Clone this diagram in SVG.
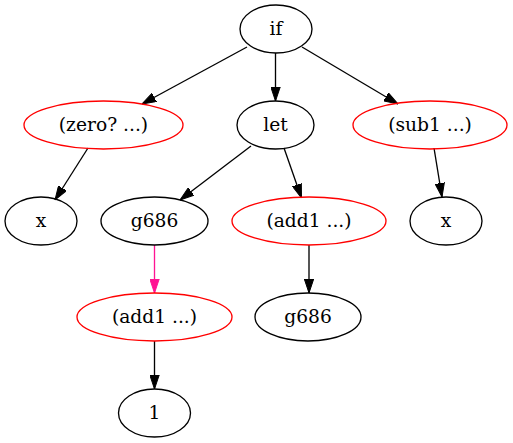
<svg xmlns="http://www.w3.org/2000/svg" width="513" height="443" viewBox="0 0 513 443">
<style>
.n ellipse{fill:none;stroke:#000;stroke-width:1.33}
.r ellipse{stroke:#ff0000}
text{font-family:"DejaVu Serif","Liberation Serif",serif;font-size:18.67px;text-anchor:middle;fill:#000}
.e line{stroke:#000;stroke-width:1.33}
.e line.p{stroke:#ff1493}
</style>
<defs>
<marker id="a" markerUnits="userSpaceOnUse" markerWidth="14" markerHeight="10" viewBox="0 0 14 10" refX="14" refY="5" orient="auto"><path d="M0,0.3 L14,5 L0,9.7 z" fill="#000" stroke="#000" stroke-width="1"/></marker>
<marker id="ap" markerUnits="userSpaceOnUse" markerWidth="14" markerHeight="10" viewBox="0 0 14 10" refX="14" refY="5" orient="auto"><path d="M0,0.3 L14,5 L0,9.7 z" fill="#ff1493" stroke="#ff1493" stroke-width="1"/></marker>
</defs>
<rect width="513" height="443" fill="#fff"/>
<g class="e" id="edges">
<line x1="247" y1="47" x2="142" y2="104" marker-end="url(#a)"/>
<line x1="275.5" y1="53" x2="275.5" y2="101" marker-end="url(#a)"/>
<line x1="302" y1="47" x2="398" y2="104" marker-end="url(#a)"/>
<line x1="88" y1="148" x2="55" y2="200" marker-end="url(#a)"/>
<line x1="251" y1="146" x2="180" y2="200" marker-end="url(#a)"/>
<line x1="284" y1="148" x2="301.5" y2="198" marker-end="url(#a)"/>
<line x1="434" y1="148" x2="442" y2="197" marker-end="url(#a)"/>
<line class="p" x1="154.5" y1="245" x2="154.5" y2="293" marker-end="url(#ap)"/>
<line x1="309" y1="245" x2="309" y2="293" marker-end="url(#a)"/>
<line x1="154.5" y1="341" x2="154.5" y2="389" marker-end="url(#a)"/>
</g>
<g class="n" id="n_if"><ellipse cx="276" cy="29" rx="36" ry="24"/><text x="276" y="35">if</text></g>
<g class="n r" id="n_zero"><ellipse cx="103.5" cy="125" rx="79.5" ry="24"/><text x="103.5" y="131">(zero? ...)</text></g>
<g class="n" id="n_let"><ellipse cx="275.5" cy="125" rx="38.5" ry="24"/><text x="275.5" y="131">let</text></g>
<g class="n r" id="n_sub1"><ellipse cx="430" cy="125" rx="77" ry="24"/><text x="430" y="131">(sub1 ...)</text></g>
<g class="n" id="n_x1"><ellipse cx="41" cy="221" rx="36" ry="24"/><text x="41" y="227">x</text></g>
<g class="n" id="n_g686a"><ellipse cx="154.5" cy="221" rx="53.5" ry="24"/><text x="154.5" y="227">g686</text></g>
<g class="n r" id="n_add1a"><ellipse cx="309" cy="221" rx="77" ry="24"/><text x="309" y="227">(add1 ...)</text></g>
<g class="n" id="n_x2"><ellipse cx="446" cy="221" rx="36" ry="24"/><text x="446" y="227">x</text></g>
<g class="n r" id="n_add1b"><ellipse cx="154.5" cy="317" rx="77.5" ry="24"/><text x="154.5" y="323">(add1 ...)</text></g>
<g class="n" id="n_g686b"><ellipse cx="308" cy="317" rx="53" ry="24"/><text x="308" y="323">g686</text></g>
<g class="n" id="n_1"><ellipse cx="154.5" cy="413" rx="36" ry="24"/><text x="154.5" y="419">1</text></g>
</svg>
